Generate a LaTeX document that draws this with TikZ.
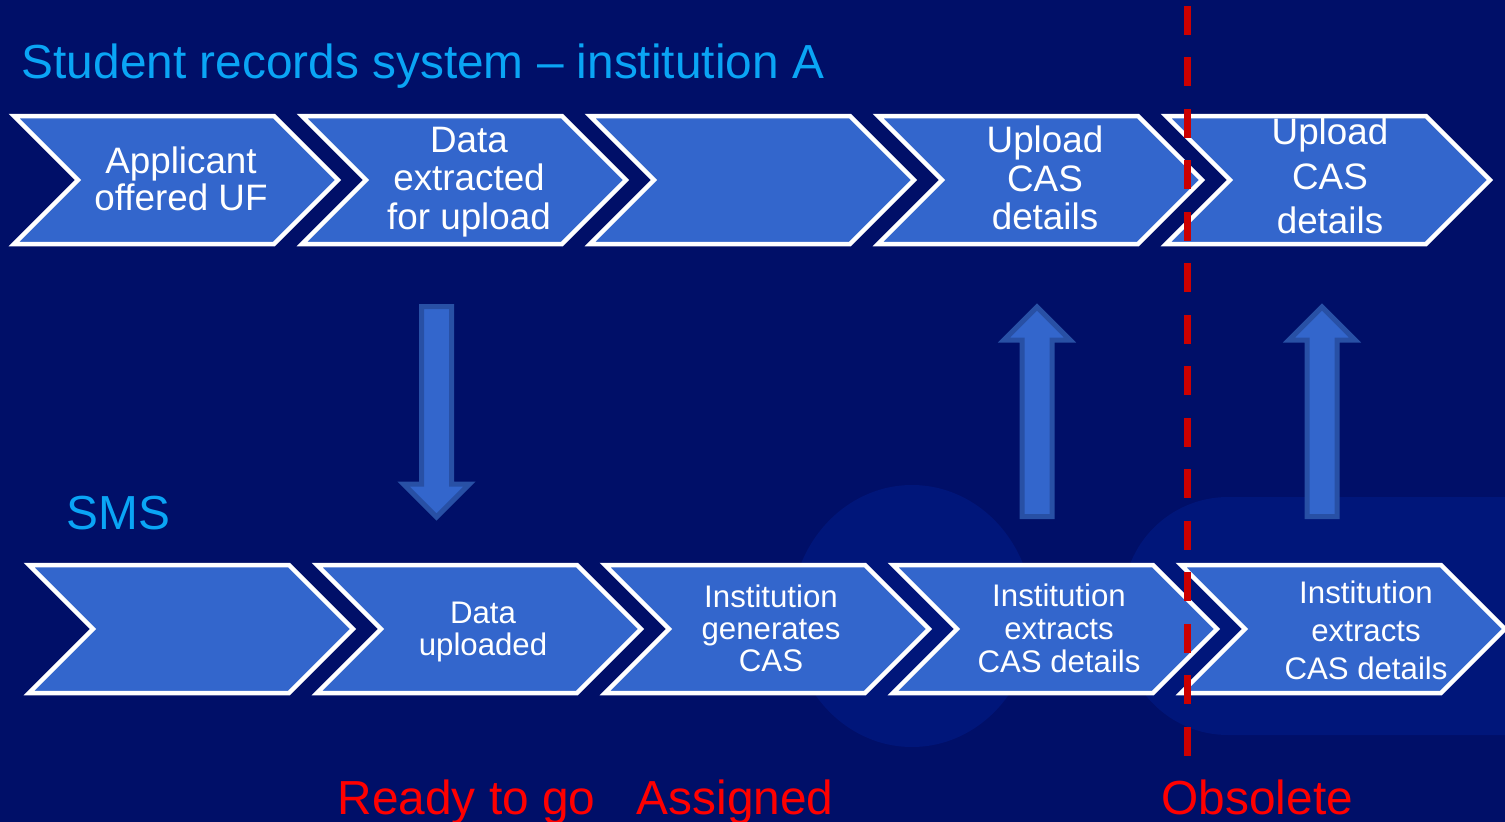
\documentclass[tikz,border=0pt]{standalone}
\usepackage{fontspec}
\setmainfont{Liberation Sans}
\definecolor{slide}{RGB}{0,15,104}
\definecolor{blobnavy}{RGB}{0,22,122}
\definecolor{chevblue}{RGB}{51,102,204}
\definecolor{arrowedge}{RGB}{40,80,165}
\definecolor{headblue}{RGB}{10,165,245}
\definecolor{cutred}{RGB}{204,0,0}

\begin{document}
\begin{tikzpicture}[
  x=0.1mm,y=-0.1mm,
  chev/.style={fill=chevblue,draw=white,line width=0.45mm,line join=miter},
  blockarrow/.style={fill=chevblue,draw=arrowedge,line width=0.5mm,line join=miter},
  blob/.style={fill=blobnavy},
  cutline/.style={draw=cutred,line width=0.7mm,dash pattern=on 2.9mm off 2.25mm},
  head/.style={text=headblue,anchor=base west,inner sep=0pt,
               font=\fontsize{4.78mm}{5.5mm}\selectfont},
  state/.style={text=red,anchor=base west,inner sep=0pt,
                font=\fontsize{4.78mm}{5.5mm}\selectfont},
  toptxt/.style={text=white,align=center,inner sep=0pt},
  bottxt/.style={text=white,align=center,inner sep=0pt}
]

% ---- background ----
\useasboundingbox (0,0) rectangle (1505,822);
\clip (0,0) rectangle (1505,822);
\fill[slide] (0,0) rectangle (1505,822);
\fill[blob] (912,616) ellipse [x radius=12.1mm,y radius=13.1mm];
\fill[blob,rounded corners=10.5mm] (1123,497) rectangle (1640,735);

% ---- titles ----
\node[head] (srs) at (21,78) {Student records system -- institution A};
\node[head] (sms) at (66,529) {SMS};

% ---- top row: student records system ----
\draw[chev] (14,116) -- ++(260,0) -- ++(64,64) -- ++(-64,64) -- ++(-260,0) -- ++(64,-64) -- cycle;
\draw[chev] (302,116) -- ++(260,0) -- ++(64,64) -- ++(-64,64) -- ++(-260,0) -- ++(64,-64) -- cycle;
\draw[chev] (590,116) -- ++(260,0) -- ++(64,64) -- ++(-64,64) -- ++(-260,0) -- ++(64,-64) -- cycle;
\draw[chev] (878,116) -- ++(260,0) -- ++(64,64) -- ++(-64,64) -- ++(-260,0) -- ++(64,-64) -- cycle;
\draw[chev] (1166,116) -- ++(260,0) -- ++(64,64) -- ++(-64,64) -- ++(-260,0) -- ++(64,-64) -- cycle;

\node[toptxt,font=\fontsize{3.68mm}{3.75mm}\selectfont] (offer) at (181,179)
  {Applicant\\offered UF};
\node[toptxt,font=\fontsize{3.68mm}{3.85mm}\selectfont] (extract) at (469,182)
  {Data\\extracted\\for upload};
\node[toptxt,font=\fontsize{3.68mm}{3.85mm}\selectfont] (upload) at (1045,178)
  {Upload\\CAS\\details};
\node[toptxt,font=\fontsize{3.68mm}{4.45mm}\selectfont] (upload2) at (1330,176)
  {Upload\\CAS\\details};

% ---- bottom row: SMS ----
\draw[chev] (29,565) -- ++(260,0) -- ++(64,64) -- ++(-64,64) -- ++(-260,0) -- ++(64,-64) -- cycle;
\draw[chev] (317,565) -- ++(260,0) -- ++(64,64) -- ++(-64,64) -- ++(-260,0) -- ++(64,-64) -- cycle;
\draw[chev] (605,565) -- ++(260,0) -- ++(64,64) -- ++(-64,64) -- ++(-260,0) -- ++(64,-64) -- cycle;
\draw[chev] (893,565) -- ++(260,0) -- ++(64,64) -- ++(-64,64) -- ++(-260,0) -- ++(64,-64) -- cycle;
\draw[chev] (1181,565) -- ++(260,0) -- ++(64,64) -- ++(-64,64) -- ++(-260,0) -- ++(64,-64) -- cycle;

\node[bottxt,font=\fontsize{3.12mm}{3.15mm}\selectfont] (uploaded) at (483,632)
  {Data\\uploaded};
\node[bottxt,font=\fontsize{3.12mm}{3.2mm}\selectfont] (generate) at (771,628)
  {Institution\\generates\\CAS};
\node[bottxt,font=\fontsize{3.12mm}{3.3mm}\selectfont] (extracts) at (1059,628)
  {Institution\\extracts\\CAS details};
\node[bottxt,font=\fontsize{3.12mm}{3.8mm}\selectfont] (extracts2) at (1366,630)
  {Institution\\extracts\\CAS details};

% ---- block arrows between the systems ----
\draw[blockarrow] (421.5,306.5) -- (451.5,306.5) -- (451.5,484) -- (469.5,484)
  -- (436.5,517) -- (403.5,484) -- (421.5,484) -- cycle;
\draw[blockarrow] (1022,516.5) -- (1052,516.5) -- (1052,340) -- (1070,340)
  -- (1037,307) -- (1004,340) -- (1022,340) -- cycle;
\draw[blockarrow] (1307,516.5) -- (1337,516.5) -- (1337,340) -- (1355,340)
  -- (1322,307) -- (1289,340) -- (1307,340) -- cycle;

% ---- cut-off line ----
\coordinate (cuttop) at (1187,6);
\coordinate (cutbot) at (1187,756);
\draw[cutline] (cuttop) -- (cutbot);

% ---- states ----
\node[state] (ready) at (337,814) {Ready to go};
\node[state] (assigned) at (636,814) {Assigned};
\node[state] (obsolete) at (1161,814) {Obsolete};

\end{tikzpicture}
\end{document}
